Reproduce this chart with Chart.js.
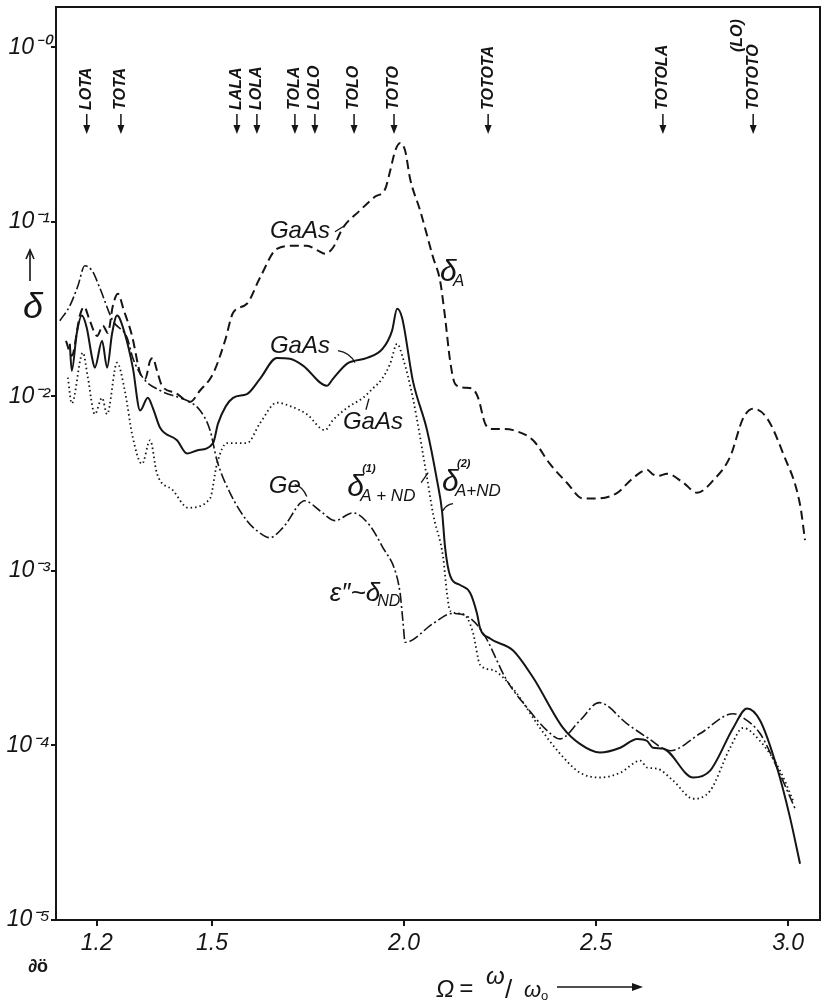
<!DOCTYPE html>
<html>
<head>
<meta charset="utf-8">
<script src="https://cdn.jsdelivr.net/npm/chart.js@4.4.1/dist/chart.umd.min.js"></script>
<style>
  html, body { margin: 0; padding: 0; background: #fff; }
  #wrap { width: 828px; height: 1000px; }
</style>
</head>
<body>
<div id="wrap"><canvas id="grafico"></canvas></div>
<script>
// Ω = ω/ω0 on x, δ (log) on y

// δ_A  GaAs (dashed)
const omegaA = [1.120,1.135,1.156,1.167,1.182,1.201,1.216,1.229,1.242,1.255,
  1.271,1.292,1.313,1.326,1.339,1.346,1.357,1.370,1.404,1.443,
  1.469,1.503,1.534,1.555,1.591,1.625,1.669,1.711,1.747,1.776,
  1.794,1.815,1.841,1.885,1.924,1.951,1.964,1.977,1.990,2.003,
  2.016,2.042,2.076,2.094,2.107,2.120,2.133,2.159,2.177,2.193,
  2.211,2.229,2.263,2.284,2.336,2.380,2.424,2.466,2.503,2.555,
  2.596,2.633,2.646,2.661,2.685,2.727,2.763,2.805,2.849,2.883,
  2.909,2.945,2.987,3.031,3.044];
const deltaA = [0.0208,0.0171,0.0290,0.0326,0.0271,0.0222,0.0254,0.0231,0.0330,0.0387,
  0.0309,0.0222,0.0136,0.0126,0.0160,0.0166,0.0140,0.0115,0.0105,0.0093,
  0.0108,0.0135,0.0208,0.0301,0.0339,0.0478,0.0700,0.0729,0.0729,0.0683,
  0.0656,0.0710,0.0924,0.116,0.139,0.154,0.196,0.255,0.283,0.255,
  0.176,0.116,0.0622,0.0459,0.0282,0.0160,0.0118,0.0112,0.0111,0.0098,
  0.0070,0.0065,0.0065,0.0064,0.0056,0.0041,0.0032,0.0026,0.0026,0.0028,
  0.0034,0.0038,0.0036,0.0035,0.0036,0.0032,0.0028,0.0033,0.0045,0.0075,
  0.0085,0.0075,0.0047,0.0024,0.0015];

// δ(2)_A+ND  GaAs (solid)
const omegaB = [1.130,1.135,1.148,1.161,1.174,1.188,1.195,1.214,1.227,1.240,
  1.253,1.273,1.294,1.313,1.333,1.346,1.365,1.409,1.435,1.461,
  1.503,1.516,1.555,1.591,1.625,1.669,1.703,1.737,1.799,1.815,
  1.852,1.904,1.945,1.969,1.982,1.995,2.023,2.060,2.086,2.099,
  2.107,2.120,2.146,2.172,2.190,2.198,2.224,2.284,2.336,2.414,
  2.458,2.510,2.563,2.607,2.633,2.648,2.674,2.753,2.797,2.857,
  2.893,2.927,2.971,3.005,3.031];
const deltaB = [0.0200,0.0140,0.0229,0.0290,0.0247,0.0166,0.0146,0.0208,0.0146,0.0229,
  0.0290,0.0229,0.0146,0.0083,0.0098,0.0086,0.0066,0.0056,0.0047,0.0049,
  0.0054,0.0070,0.0098,0.0103,0.0126,0.0166,0.0164,0.0150,0.0115,0.0126,
  0.0154,0.0166,0.0188,0.0238,0.0318,0.0282,0.0123,0.0064,0.0033,0.0022,
  0.00136,0.00094,0.00083,0.00075,0.00057,0.00047,0.00041,0.00035,0.000245,0.000126,
  0.000102,0.000091,0.000097,0.000109,0.000106,0.000097,0.000096,0.0000655,0.0000718,0.000126,
  0.000163,0.000139,0.0000747,0.0000386,0.0000210];

// δ(1)_A+ND  GaAs (dotted)
const omegaC = [1.125,1.135,1.164,1.177,1.195,1.214,1.227,1.253,1.273,1.294,
  1.318,1.339,1.357,1.398,1.438,1.495,1.513,1.539,1.591,1.625,
  1.669,1.703,1.747,1.794,1.815,1.852,1.893,1.919,1.943,1.964,
  1.982,1.997,2.023,2.060,2.076,2.102,2.112,2.120,2.146,2.164,
  2.180,2.198,2.232,2.258,2.294,2.354,2.406,2.458,2.510,2.563,
  2.615,2.633,2.659,2.701,2.753,2.797,2.849,2.883,2.927,2.979,
  3.013];
const deltaC = [0.0128,0.0091,0.0178,0.0128,0.0079,0.0098,0.0079,0.0156,0.0108,0.0058,
  0.0041,0.0056,0.0036,0.0029,0.0023,0.0026,0.0041,0.0054,0.0054,0.0070,
  0.0092,0.0088,0.0079,0.0064,0.0073,0.0086,0.0098,0.0111,0.0126,0.0154,
  0.0200,0.0166,0.0098,0.0034,0.0021,0.00119,0.00074,0.00059,0.00057,0.00054,
  0.00044,0.00029,0.00027,0.000245,0.000198,0.000126,0.0000898,0.0000698,0.0000655,0.0000698,
  0.0000818,0.0000747,0.0000736,0.0000628,0.0000495,0.000055,0.000097,0.000126,0.000106,0.0000718,
  0.0000483];

// ε'' ~ δ_ND  Ge (dash-dot)
const omegaD = [1.104,1.130,1.151,1.169,1.188,1.208,1.242,1.279,1.294,1.320,
  1.365,1.417,1.438,1.469,1.495,1.513,1.547,1.591,1.617,1.651,
  1.685,1.742,1.781,1.820,1.867,1.911,1.945,1.977,1.990,1.997,
  2.003,2.076,2.125,2.164,2.206,2.268,2.320,2.372,2.406,2.458,
  2.508,2.581,2.633,2.693,2.771,2.857,2.883,2.927,2.971,3.018];
const deltaD = [0.0271,0.0330,0.0429,0.0560,0.0524,0.0418,0.0271,0.0217,0.0166,0.0128,
  0.0108,0.0098,0.0094,0.0083,0.0064,0.0043,0.0028,0.00194,0.00170,0.00155,
  0.00177,0.00252,0.00221,0.00194,0.00215,0.00182,0.00136,0.00100,0.00074,0.00052,
  0.00039,0.00050,0.00057,0.00055,0.00044,0.000235,0.000165,0.000122,0.000109,0.000139,
  0.000176,0.000133,0.000111,0.0000933,0.000117,0.000152,0.000144,0.000117,0.0000747,0.0000435];

// tick values
const xTicks = [1.2, 1.5, 2.0, 2.5, 3.0];
const yTicks = [1, 1e-1, 1e-2, 1e-3, 1e-4, 1e-5];

// combination frequencies marked at the top
const arrowNames = ['LOTA','TOTA','LALA','LOLA','TOLA','LOLO','TOLO','TOTO','TOTOTA','TOTOLA','TOTOTO'];
const arrowOmega = [1.174,1.263,1.565,1.617,1.716,1.768,1.870,1.974,2.219,2.674,2.909];

// curve names
const labelText = ['GaAs', 'GaAs', 'GaAs', 'Ge'];
const labelOmega = [1.651, 1.651, 1.841, 1.648];
const labelDelta = [0.081, 0.0178, 0.00652, 0.00281];

const FONT = "'Liberation Sans', Arial, sans-serif";
const INK = '#151515';
const sup = { '0': '⁰', '1': '¹', '2': '²', '3': '³', '4': '⁴', '5': '⁵' };

function pts(xs, ys) {
  return xs.map((x, i) => ({ x: x, y: ys[i] }));
}

function line(c, x1, y1, x2, y2) {
  c.beginPath(); c.moveTo(x1, y1); c.lineTo(x2, y2); c.stroke();
}

// δ with upper index and lower index
function deltaSymbol(c, x, y, upper, lower) {
  c.font = 'italic 30px ' + FONT;
  c.fillText('δ', x, y);
  if (upper) {
    c.font = 'italic bold 11px ' + FONT;
    c.fillText(upper, x + 15, y - 24);
  }
  c.font = 'italic 17px ' + FONT;
  c.fillText(lower, x + 13, y + 5);
}

const decor = {
  id: 'decor',
  afterDraw(chart) {
    const c = chart.ctx, a = chart.chartArea;
    const sx = chart.scales.x, sy = chart.scales.y;
    c.save();
    c.strokeStyle = INK;
    c.fillStyle = INK;

    // frame
    c.lineWidth = 2;
    c.strokeRect(a.left, a.top, a.right - a.left, a.bottom - a.top);

    // arrows at the top
    c.font = 'italic bold 16px ' + FONT;
    c.textBaseline = 'middle';
    c.textAlign = 'left';
    arrowNames.forEach((n, i) => {
      const x = sx.getPixelForValue(arrowOmega[i]);
      c.save();
      c.translate(x, a.top + 103);
      c.rotate(-Math.PI / 2);
      c.fillText(n, 0, 0);
      if (n === 'TOTOTO') c.fillText('(LO)', 58, -16);
      c.restore();
      c.lineWidth = 1.5;
      line(c, x, a.top + 107, x, a.top + 121);
      c.beginPath();
      c.moveTo(x - 3.5, a.top + 118);
      c.lineTo(x + 3.5, a.top + 118);
      c.lineTo(x, a.top + 127);
      c.closePath();
      c.fill();
    });

    // curve names
    c.textBaseline = 'alphabetic';
    c.font = 'italic 24px ' + FONT;
    const p = labelText.map((t, i) => {
      const x = sx.getPixelForValue(labelOmega[i]);
      const y = sy.getPixelForValue(labelDelta[i]);
      c.fillText(t, x, y);
      return [x, y];
    });
    c.lineWidth = 1.3;
    line(c, p[0][0] + 65, p[0][1] - 6, p[0][0] + 73, p[0][1] - 11);
    c.beginPath(); c.moveTo(p[1][0] + 68, p[1][1] - 2);
    c.quadraticCurveTo(p[1][0] + 80, p[1][1], p[1][0] + 85, p[1][1] + 10); c.stroke();
    line(c, p[2][0] + 23, p[2][1] - 19, p[2][0] + 26, p[2][1] - 30);
    c.beginPath(); c.moveTo(p[3][0] + 26, p[3][1] - 8);
    c.quadraticCurveTo(p[3][0] + 34, p[3][1] - 6, p[3][0] + 38, p[3][1] + 4); c.stroke();

    // δ symbols
    let x = sx.getPixelForValue(2.094), y = sy.getPixelForValue(0.0459);
    deltaSymbol(c, x, y, '', 'A');
    x = sx.getPixelForValue(1.852); y = sy.getPixelForValue(0.00270);
    deltaSymbol(c, x, y, '(1)', 'A + ND');
    line(c, x + 74, y - 13, x + 81, y - 23);
    x = sx.getPixelForValue(2.099); y = sy.getPixelForValue(0.00288);
    deltaSymbol(c, x, y, '(2)', 'A+ND');
    c.beginPath(); c.moveTo(x + 11, y + 13);
    c.quadraticCurveTo(x + 4, y + 14, x + 1, y + 20); c.stroke();

    x = sx.getPixelForValue(1.807); y = sy.getPixelForValue(0.000675);
    c.font = 'italic 26px ' + FONT;
    c.fillText('ε″~δ', x, y);
    const w = c.measureText('ε″~δ').width;
    c.font = 'italic 16px ' + FONT;
    c.fillText('ND', x + w - 3, y + 5);

    // y axis title
    c.lineWidth = 1.6;
    line(c, 30, 281, 30, 252);
    c.beginPath(); c.moveTo(26, 259); c.lineTo(30, 250); c.lineTo(34, 259); c.stroke();
    c.font = 'italic 36px ' + FONT;
    c.textAlign = 'center';
    c.fillText('δ', 33, 318);

    // x axis title
    c.textAlign = 'left';
    c.font = 'italic 24px ' + FONT;
    c.fillText('Ω', 436, 997);
    c.fillText('=', 459, 996);
    c.fillText('ω', 486, 984);
    c.font = '26px ' + FONT;
    c.fillText('/', 505, 998);
    c.font = 'italic 22px ' + FONT;
    c.fillText('ω', 524, 997);
    c.font = '13px ' + FONT;
    c.fillText('o', 541, 1000);
    c.lineWidth = 1.6;
    line(c, 557, 987, 640, 987);
    c.beginPath(); c.moveTo(632, 983); c.lineTo(643, 987); c.lineTo(632, 991); c.closePath(); c.fill();

    c.font = 'bold 18px ' + FONT;
    c.fillText('∂ö', 28, 972);
    c.restore();
  }
};

const base = {
  borderColor: INK,
  pointRadius: 0,
  fill: false,
  cubicInterpolationMode: 'monotone'
};

new Chart(document.getElementById('grafico'), {
  type: 'line',
  data: {
    datasets: [
      { ...base, label: 'δA GaAs', data: pts(omegaA, deltaA), borderWidth: 2, borderDash: [9, 5] },
      { ...base, label: 'δ(2)A+ND GaAs', data: pts(omegaB, deltaB), borderWidth: 2 },
      { ...base, label: 'δ(1)A+ND GaAs', data: pts(omegaC, deltaC), borderWidth: 1.8, borderDash: [1.5, 3] },
      { ...base, label: 'Ge', data: pts(omegaD, deltaD), borderWidth: 1.6, borderDash: [10, 3, 2, 3] }
    ]
  },
  options: {
    responsive: true,
    maintainAspectRatio: false,
    animation: false,
    layout: { padding: { top: 7, right: 8, left: 0, bottom: 0 } },
    plugins: { legend: { display: false }, tooltip: { enabled: false } },
    scales: {
      x: {
        type: 'linear',
        min: 1.094,
        max: 3.083,
        afterBuildTicks: s => { s.ticks = xTicks.map(v => ({ value: v })); },
        afterFit: s => { s.height = 80; s.paddingLeft = 0; s.paddingRight = 0; },
        border: { display: false },
        grid: { drawOnChartArea: false, tickLength: 6, color: INK, lineWidth: 2 },
        ticks: {
          color: INK, padding: 4, maxRotation: 0,
          font: { family: FONT, size: 23, style: 'italic' },
          callback: v => v.toFixed(1)
        }
      },
      y: {
        type: 'logarithmic',
        min: 1e-5,
        max: 1.7,
        afterBuildTicks: s => { s.ticks = yTicks.map(v => ({ value: v })); },
        afterFit: s => { s.width = 56; s.paddingTop = 0; s.paddingBottom = 0; },
        border: { display: false },
        grid: { drawOnChartArea: false, tickLength: 5, color: INK, lineWidth: 2 },
        ticks: {
          color: INK, padding: 1,
          font: { family: FONT, size: 23, style: 'italic' },
          callback: v => '10⁻' + sup[String(Math.abs(Math.round(Math.log10(v))))]
        }
      }
    }
  },
  plugins: [decor]
});
</script>
</body>
</html>
